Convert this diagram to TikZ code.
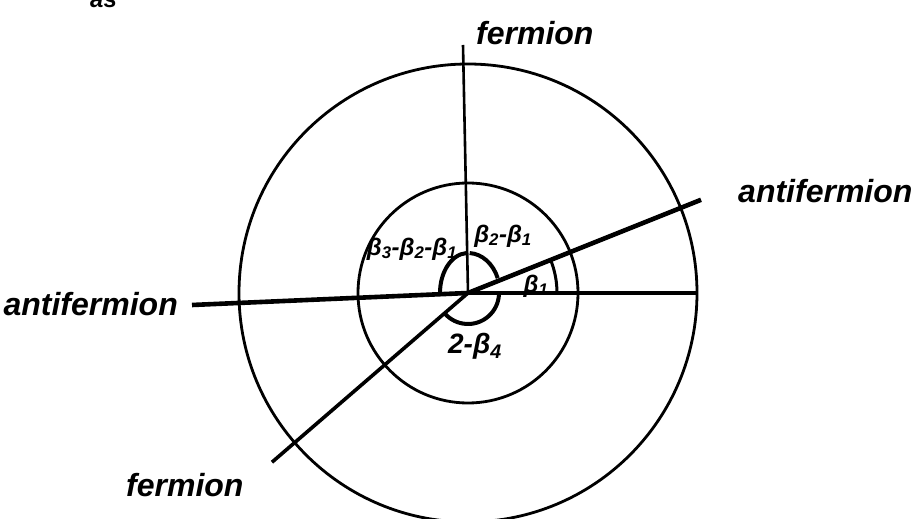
\documentclass[tikz,border=0pt]{standalone}
\usepackage{fontspec}
\setmainfont{Liberation Sans}
\usetikzlibrary{calc}
\tikzset{
  ring/.style={draw=black,line width=2.8pt},
  leg/.style={draw=black,line width=2.6pt},
  heavyleg/.style={draw=black,line width=4.6pt},
  anglearc/.style={draw=black,line width=4pt},
  hand/.style={inner sep=0pt,font=\fontsize{32}{36}\selectfont\bfseries\itshape},
  greek/.style={inner sep=0pt,font=\fontsize{24}{28}\selectfont\bfseries\itshape}
}

\begin{document}
\begin{tikzpicture}[x=1pt,y=1pt]
  \clip (0,0) rectangle (918,519);
  \fill[white] (0,0) rectangle (918,519);
  \coordinate (vertex) at (468,226);
  % circles
  \draw[ring] (vertex) circle[radius=229];
  \draw[ring] (vertex) circle[radius=110];
  % the four legs
  \coordinate (upEnd) at (463,474);
  \coordinate (leftEnd) at (192,214);
  \coordinate (rightEnd) at ($(vertex)+(229,0)$);
  \coordinate (diagUp) at ($(vertex)+(21.8:251)$);
  \coordinate (diagDown) at ($(vertex)+(220.8:259)$);
  \draw[leg] (vertex) -- (upEnd);
  \draw[heavyleg] (leftEnd) -- (vertex);
  \draw[leg,line width=3.2pt] (vertex) -- (rightEnd);
  \draw[heavyleg] (vertex) -- (diagUp);
  \draw[leg,line width=3.6pt] (vertex) -- (diagDown);
  % angle marks
  \draw[anglearc] (vertex) ++(21.8:32 and 40) arc[start angle=21.8,end angle=87,x radius=32,y radius=40];
  \draw[anglearc] (vertex) ++(93:28 and 40) arc[start angle=93,end angle=180,x radius=28,y radius=40];
  \draw[anglearc] (vertex) ++(221:31) arc[start angle=221,end angle=358,radius=31];
  \draw[anglearc,line width=3pt] (vertex) ++(0:89) arc[start angle=0,end angle=21.8,radius=89];
  % angle labels
  \node[greek] (angThree) at (412,270) {β\textsubscript{3}-β\textsubscript{2}-β\textsubscript{1}};
  \node[greek] (angTwo) at (503,283) {β\textsubscript{2}-β\textsubscript{1}};
  \node[greek] (angOne) at (536,233) {β\textsubscript{1}};
  \node[greek,font=\fontsize{28}{32}\selectfont\bfseries\itshape] (angFour) at (475,173) {2-β\textsubscript{4}};
  % particle labels
  \node[hand,anchor=base west] (fermUpLbl) at (476,474) {fermion};
  \node[hand,anchor=base west] (antiRightLbl) at (738,316) {antifermion};
  \node[hand,anchor=base east] (antiLeftLbl) at (178,203) {antifermion};
  \node[hand,anchor=base west] (fermDownLbl) at (126,22) {fermion};
  \node[hand,font=\fontsize{24}{28}\selectfont\bfseries\itshape,anchor=base west] (asLbl) at (90,511) {as};
\end{tikzpicture}
\end{document}
